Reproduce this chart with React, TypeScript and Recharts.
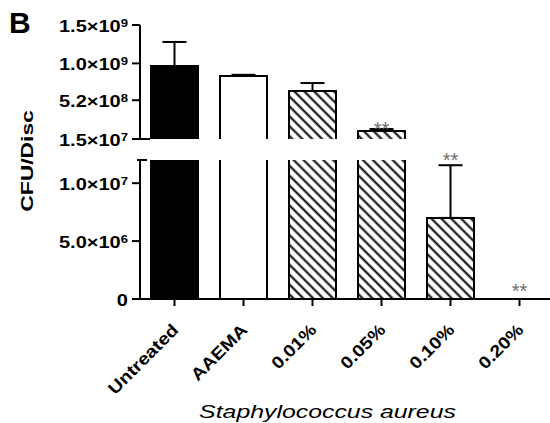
import React from "react";
import { BarChart, Bar, XAxis, YAxis, ErrorBar, Cell, ReferenceDot } from "recharts";

const FONT = "'Liberation Sans', Arial, Helvetica, sans-serif";

// ---- data ----
const categories = ["Untreated", "AAEMA", "0.01%", "0.05%", "0.10%", "0.20%"];
const means = [9.66e8, 8.36e8, 6.4e8, 1.19e8, 7.0e6, 0];
const sems = [3.13e8, 1.5e7, 1.04e8, 2.6e7, 4.55e6, 0];
const fillKinds = ["solid", "open", "hatch", "hatch", "hatch", "hatch"];
const stars = ["", "", "", "**", "**", "**"];
const starLevels: (number | null)[] = [null, null, null, 2.04e8, 1.241e7, 1.12e6];

const upperDomain = [1.5e7, 1.5e9];
const upperTicks = [1.5e7, 5.2e8, 1.0e9, 1.5e9];
const upperTickLabels = [["1.5", "7"], ["5.2", "8"], ["1.0", "9"], ["1.5", "9"]];

const lowerDomain = [0, 1.2e7];
const lowerTicks = [0, 5e6, 1e7, 1.2e7];
const lowerTickLabels = [["0", ""], ["5.0", "6"], ["1.0", "7"], ["", ""]];

const yTitle = "CFU/Disc";
const xTitle = "Staphylococcus aureus";
const panelLetter = "B";

// ---- derived tables ----
const upperData = categories.map((c, i) => ({
  name: c,
  value: means[i] >= upperDomain[0] ? [0, means[i]] : null,
  err: means[i] >= upperDomain[0] && sems[i] > 0 ? [0, sems[i]] : null,
}));
const lowerData = categories.map((c, i) => ({
  name: c,
  value: means[i],
  err: means[i] + sems[i] <= lowerDomain[1] && sems[i] > 0 ? [0, sems[i]] : null,
}));

const fillFor = (k: string) => (k === "solid" ? "#000" : k === "open" ? "#fff" : "url(#hatch)");

const TICK_SIZE = 8;
const TICK_MARGIN = 4;

const makeYTick = (ticks: number[], labels: string[][], domain: number[], which: "upper" | "lower") =>
  (props: any) => {
    const { x, y, payload } = props;
    const i = ticks.indexOf(payload.value);
    const [m, e] = labels[i] ?? ["", ""];
    const ax = x + TICK_SIZE + TICK_MARGIN;
    let x1 = ax - TICK_SIZE;
    let x2 = ax;
    if (which === "upper" && payload.value === domain[0]) x2 = ax + 10;
    if (which === "lower" && payload.value === domain[1]) {
      x1 = ax - 3;
      x2 = ax + 7;
    }
    return (
      <g>
        <line x1={x1} x2={x2} y1={y} y2={y} stroke="#000" strokeWidth={2} />
        {m !== "" && (
          <text
            transform={`translate(${x},${y + 6.5}) scale(1.25,1)`}
            textAnchor="end"
            fontFamily={FONT}
            fontWeight="bold"
            fontSize={16}
            fill="#000"
          >
            {e ? (
              <>
                {m}×10
                <tspan fontSize={10.5} dy={-5}>
                  {e}
                </tspan>
              </>
            ) : (
              m
            )}
          </text>
        )}
      </g>
    );
  };

const XTick = (props: any) => {
  const { x, y, payload } = props;
  return (
    <text
      transform={`translate(${x + 5},${y + 25}) rotate(-45) scale(1.15,1)`}
      textAnchor="end"
      fontFamily={FONT}
      fontWeight="bold"
      fontSize={17}
      fill="#000"
    >
      {payload.value}
    </text>
  );
};

const StarLabel = (text: string) => (props: any) => {
  const vb = props.viewBox || {};
  const cx = (vb.x ?? 0) + (vb.width ?? 0) / 2;
  const cy = (vb.y ?? 0) + (vb.height ?? 0) / 2;
  return (
    <text x={cx} y={cy + 11.5} textAnchor="middle" fontFamily={FONT} fontSize={20} fill="#6e6e6e">
      {text}
    </text>
  );
};

const renderStars = (chart: "upper" | "lower") =>
  categories.map((c, i) => {
    const lvl = starLevels[i];
    if (lvl == null || !stars[i]) return null;
    const inUpper = lvl >= upperDomain[0];
    if ((chart === "upper") !== inUpper) return null;
    return (
      <ReferenceDot
        key={`star-${c}`}
        x={c}
        y={lvl}
        r={1}
        fill="none"
        stroke="none"
        ifOverflow="visible"
        label={StarLabel(stars[i])}
      />
    );
  });

export default function App() {
  return (
    <div style={{ position: "absolute", left: 0, top: 0, width: 550, height: 423, overflow: "hidden", background: "#fff" }}>
      <svg width={0} height={0} style={{ position: "absolute" }}>
        <defs>
          <pattern id="hatch" patternUnits="userSpaceOnUse" width={7} height={7} patternTransform="rotate(45)">
            <rect width={7} height={7} fill="#fff" />
            <line x1={0} y1={3.5} x2={7} y2={3.5} stroke="#000" strokeWidth={2} />
          </pattern>
        </defs>
      </svg>

      {/* lower segment */}
      <div style={{ position: "absolute", left: 0, top: 0 }}>
        <BarChart
          width={554}
          height={423}
          data={lowerData}
          margin={{ top: 160, right: 0, bottom: 0, left: 0 }}
          barSize={47}
        >
          <XAxis
            dataKey="name"
            height={124}
            tickSize={7}
            tickMargin={0}
            interval={0}
            axisLine={{ stroke: "#000", strokeWidth: 2 }}
            tickLine={{ stroke: "#000", strokeWidth: 2 }}
            tick={<XTick />}
          />
          <YAxis
            type="number"
            domain={lowerDomain}
            allowDataOverflow
            ticks={lowerTicks}
            interval={0}
            width={140}
            tickSize={TICK_SIZE}
            tickMargin={TICK_MARGIN}
            tickLine={false}
            axisLine={{ stroke: "#000", strokeWidth: 2 }}
            tick={makeYTick(lowerTicks, lowerTickLabels, lowerDomain, "lower")}
          />
          <Bar dataKey="value" isAnimationActive={false} stroke="#000" strokeWidth={2}>
            {categories.map((c, i) => (
              <Cell key={c} fill={fillFor(fillKinds[i])} />
            ))}
            <ErrorBar dataKey="err" width={12} stroke="#000" strokeWidth={2} direction="y" isAnimationActive={false} />
          </Bar>
          {renderStars("lower")}
        </BarChart>
      </div>

      {/* upper segment */}
      <div style={{ position: "absolute", left: 0, top: 0 }}>
        <BarChart
          width={554}
          height={150}
          data={upperData}
          margin={{ top: 25, right: 0, bottom: 11, left: 0 }}
          barSize={47}
        >
          <XAxis dataKey="name" hide />
          <YAxis
            type="number"
            domain={upperDomain}
            allowDataOverflow
            ticks={upperTicks}
            interval={0}
            width={140}
            tickSize={TICK_SIZE}
            tickMargin={TICK_MARGIN}
            tickLine={false}
            axisLine={{ stroke: "#000", strokeWidth: 2 }}
            tick={makeYTick(upperTicks, upperTickLabels, upperDomain, "upper")}
          />
          <Bar dataKey="value" isAnimationActive={false} stroke="#000" strokeWidth={2}>
            {categories.map((c, i) => (
              <Cell key={c} fill={fillFor(fillKinds[i])} />
            ))}
            <ErrorBar dataKey="err" width={12} stroke="#000" strokeWidth={2} direction="y" isAnimationActive={false} />
          </Bar>
          {renderStars("upper")}
        </BarChart>
      </div>

      {/* titles */}
      <svg width={550} height={423} style={{ position: "absolute", left: 0, top: 0, pointerEvents: "none" }}>
        <text x={9} y={33} fontFamily={FONT} fontWeight="bold" fontSize={30} fill="#000">
          {panelLetter}
        </text>
        <text
          transform="translate(33,161) rotate(-90) scale(1.43,1)"
          textAnchor="middle"
          fontFamily={FONT}
          fontWeight="bold"
          fontSize={16}
          fill="#000"
        >
          {yTitle}
        </text>
        <text
          transform="translate(327.5,418) scale(1.38,1)"
          textAnchor="middle"
          fontFamily={FONT}
          fontStyle="italic"
          fontSize={18}
          fill="#000"
        >
          {xTitle}
        </text>
      </svg>
    </div>
  );
}
